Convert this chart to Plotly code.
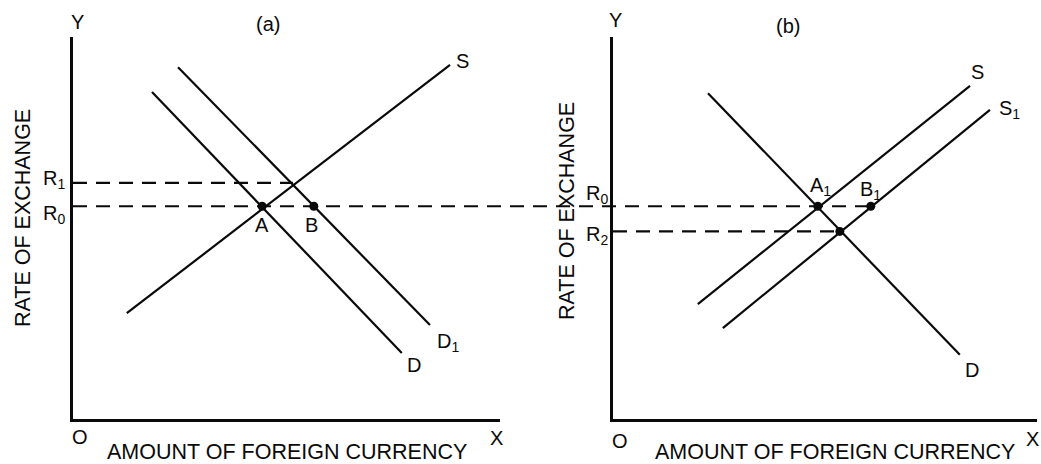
import plotly.graph_objects as go

W, H = 1041, 464
FONT = "Liberation Sans, Arial, Helvetica, sans-serif"

# ---------------- data (panel units: x 0..10, y 0..10) ----------------
# Panel (a)
a_S_x = [1.26, 8.83]
a_S_y = [2.77, 9.27]
a_D_x = [1.85, 7.70]
a_D_y = [8.56, 1.73]
a_D1_x = [2.46, 8.36]
a_D1_y = [9.21, 2.46]
R0 = 5.57          # shared exchange rate R0 (both panels)
a_R1 = 6.18
a_R1_end_x = 5.15  # S meets D1
a_pts_x = [4.43, 5.64]   # A, B

# Panel (b)
b_D_x = [2.24, 8.18]
b_D_y = [8.53, 1.68]
b_S_x = [2.00, 8.42]
b_S_y = [3.01, 8.72]
b_S1_x = [2.59, 8.89]
b_S1_y = [2.38, 8.09]
b_R2 = 4.91
b_pts_x = [4.83, 6.08, 5.35]   # A1, B1, new equilibrium
b_pts_y = [R0, R0, b_R2]

# ---------------- layout geometry ----------------
XA = [73 / W, 500 / W]
XB = [613 / W, 1037 / W]
YD = [1 - 419 / H, 1 - 37 / H]


def a_paper(x):
    return XA[0] + x / 10 * (XA[1] - XA[0])


def b_paper(x):
    return XB[0] + x / 10 * (XB[1] - XB[0])


INK = "#0a0a0a"
LINE = dict(color=INK, width=2.2)
DASH = dict(color=INK, width=2.2, dash="14px,9px")

fig = go.Figure()

# panel a curves
for xs, ys in [(a_S_x, a_S_y), (a_D_x, a_D_y), (a_D1_x, a_D1_y)]:
    fig.add_trace(go.Scatter(x=xs, y=ys, mode="lines", line=LINE, xaxis="x", yaxis="y"))
fig.add_trace(go.Scatter(x=[0, a_R1_end_x], y=[a_R1, a_R1], mode="lines", line=DASH,
                         xaxis="x", yaxis="y"))
fig.add_trace(go.Scatter(x=a_pts_x, y=[R0] * len(a_pts_x), mode="markers",
                         marker=dict(color=INK, size=9), xaxis="x", yaxis="y"))

# panel b curves
for xs, ys in [(b_D_x, b_D_y), (b_S_x, b_S_y), (b_S1_x, b_S1_y)]:
    fig.add_trace(go.Scatter(x=xs, y=ys, mode="lines", line=LINE, xaxis="x2", yaxis="y2"))
fig.add_trace(go.Scatter(x=[0, b_pts_x[2]], y=[b_R2, b_R2], mode="lines", line=DASH,
                         xaxis="x2", yaxis="y2"))
fig.add_trace(go.Scatter(x=b_pts_x, y=b_pts_y, mode="markers",
                         marker=dict(color=INK, size=9), xaxis="x2", yaxis="y2"))

# R0 line running across both panels (overlay axes in paper x units)
fig.add_trace(go.Scatter(x=[a_paper(0), b_paper(b_pts_x[1])], y=[R0, R0], mode="lines",
                         line=DASH, xaxis="x3", yaxis="y3"))

ax_common = dict(showgrid=False, zeroline=False, showticklabels=False, ticks="",
                 fixedrange=True)
axline = dict(showline=True, linecolor=INK, linewidth=2.6)

fig.update_layout(
    width=W, height=H,
    margin=dict(l=0, r=0, t=0, b=0),
    paper_bgcolor="white", plot_bgcolor="rgba(0,0,0,0)",
    showlegend=False,
    xaxis=dict(domain=XA, range=[0, 10], anchor="y", **ax_common, **axline),
    yaxis=dict(domain=YD, range=[0, 10], anchor="x", **ax_common, **axline),
    xaxis2=dict(domain=XB, range=[0, 10], anchor="y2", **ax_common, **axline),
    yaxis2=dict(domain=YD, range=[0, 10], anchor="x2", **ax_common, **axline),
    xaxis3=dict(domain=[0, 1], range=[0, 1], anchor="y3", visible=False, **ax_common),
    yaxis3=dict(domain=YD, range=[0, 10], anchor="x3", visible=False, **ax_common),
)

ann = []


def label(px, py, text, size=19, xanchor="center", angle=0):
    ann.append(dict(x=px / W, y=1 - py / H, xref="paper", yref="paper", text=text,
                    showarrow=False, xanchor=xanchor, yanchor="middle", textangle=angle,
                    font=dict(family=FONT, size=size, color=INK)))


# panel a texts
label(77, 22, "Y", 20)
label(268, 24, "(a)", 20)
label(80, 437, "O", 20)
label(496, 438, "X", 20)
label(287, 452, "AMOUNT OF FOREIGN CURRENCY", 21.5)
label(23, 218, "RATE OF EXCHANGE", 21.5, angle=-90)
label(67, 179, "R<sub>1</sub>", 20, xanchor="right")
label(67, 214, "R<sub>0</sub>", 20, xanchor="right")
label(262, 225, "A", 20)
label(311, 225, "B", 20)
label(462, 61, "S", 20)
label(414, 365, "D", 20)
label(448, 342, "D<sub>1</sub>", 20)

# panel b texts
label(615, 20, "Y", 20)
label(788, 26, "(b)", 20)
label(620, 441, "O", 20)
label(1032, 439, "X", 20)
label(835, 452, "AMOUNT OF FOREIGN CURRENCY", 21.5)
label(567, 211, "RATE OF EXCHANGE", 21.5, angle=-90)
label(610, 194, "R<sub>0</sub>", 20, xanchor="right")
label(610, 236, "R<sub>2</sub>", 20, xanchor="right")
label(820, 187, "A<sub>1</sub>", 20)
label(870, 190, "B<sub>1</sub>", 20)
label(977, 72, "S", 20)
label(1009, 109, "S<sub>1</sub>", 20)
label(972, 370, "D", 20)

fig.update_layout(annotations=ann)

fig.write_html(
    "out.html",
    config={"displayModeBar": False},
    post_script="document.body.style.margin='0';document.body.style.overflow='hidden';",
)
